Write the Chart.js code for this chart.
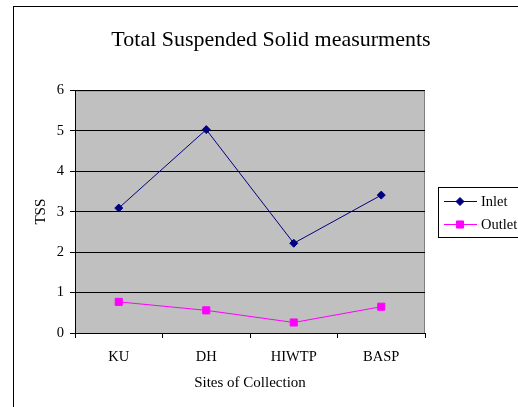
<!DOCTYPE html>
<html>
<head>
<meta charset="utf-8">
<script src="https://cdn.jsdelivr.net/npm/chart.js@4/dist/chart.umd.min.js"></script>
<style>
  html, body { margin: 0; padding: 0; background: #fff; }
  #wrap { width: 518px; height: 407px; }
</style>
</head>
<body>
<div id="wrap"><canvas id="tss" width="518" height="407"></canvas></div>
<script>
const sites = ["KU", "DH", "HIWTP", "BASP"];
const inlet = [3.09, 5.03, 2.22, 3.41];
const outlet = [0.77, 0.56, 0.26, 0.65];
const yTicks = [0, 1, 2, 3, 4, 5, 6];

const serif = "'Liberation Serif', 'Times New Roman', serif";

// grey plot area + outer frame, like the old Excel chart
const plotBackground = {
  id: "plotBackground",
  beforeDraw(chart) {
    const { ctx, chartArea: a } = chart;
    ctx.save();
    ctx.strokeStyle = "#000";
    ctx.lineWidth = 1;
    ctx.strokeRect(13.5, 6.5, 700, 600);
    ctx.fillStyle = "#c0c0c0";
    ctx.fillRect(a.left, a.top, a.right - a.left, a.bottom - a.top);
    ctx.strokeStyle = "#808080";
    ctx.strokeRect(a.left + 0.5, a.top + 0.5, a.right - a.left - 1, a.bottom - a.top);
    ctx.restore();
  }
};

// boxed legend on the right
const boxLegend = {
  id: "boxLegend",
  afterDraw(chart) {
    const { ctx } = chart;
    const x = 438, y = 187;
    ctx.save();
    ctx.fillStyle = "#fff";
    ctx.fillRect(x, y, 100, 50);
    ctx.strokeStyle = "#000";
    ctx.lineWidth = 1;
    ctx.strokeRect(x + 0.5, y + 0.5, 100, 50);
    chart.data.datasets.forEach((ds, i) => {
      const cy = y + 14 + i * 23;
      ctx.strokeStyle = ds.borderColor;
      ctx.lineWidth = 1;
      ctx.beginPath();
      ctx.moveTo(x + 6, cy + 0.5);
      ctx.lineTo(x + 39, cy + 0.5);
      ctx.stroke();
      ctx.fillStyle = ds.pointBackgroundColor;
      Chart.helpers.drawPoint(ctx, {
        pointStyle: ds.pointStyle, radius: ds.pointRadius, rotation: 0, borderWidth: 1
      }, x + 22, cy + 0.5);
      ctx.fillStyle = "#000";
      ctx.font = "14.5px " + serif;
      ctx.textBaseline = "middle";
      ctx.textAlign = "left";
      ctx.fillText(ds.label, x + 43, cy + 1);
    });
    ctx.restore();
  }
};

new Chart(document.getElementById("tss"), {
  type: "line",
  data: {
    labels: sites,
    datasets: [
      {
        label: "Inlet",
        data: inlet,
        borderColor: "#000080",
        backgroundColor: "#000080",
        pointBackgroundColor: "#000080",
        pointBorderColor: "#000080",
        pointStyle: "rectRot",
        pointRadius: 4,
        borderWidth: 1,
        tension: 0
      },
      {
        label: "Outlet",
        data: outlet,
        borderColor: "#ff00ff",
        backgroundColor: "#ff00ff",
        pointBackgroundColor: "#ff00ff",
        pointBorderColor: "#ff00ff",
        pointStyle: "rect",
        pointRadius: 5,
        borderWidth: 1,
        tension: 0
      }
    ]
  },
  options: {
    responsive: false,
    animation: false,
    layout: { padding: { left: 24, right: 0, top: 0, bottom: 0 } },
    plugins: {
      legend: { display: false },
      tooltip: { enabled: false },
      title: {
        display: true,
        text: "Total Suspended Solid measurments",
        color: "#000",
        font: { family: serif, size: 22, weight: "normal" },
        padding: { top: 27, bottom: 37 }
      }
    },
    scales: {
      x: {
        offset: true,
        grid: { offset: true, drawOnChartArea: false, drawTicks: true, tickLength: 5, color: "#000" },
        border: { color: "#000" },
        ticks: { color: "#000", padding: 10, font: { family: serif, size: 14.5 } },
        title: {
          display: true,
          text: "Sites of Collection",
          color: "#000",
          font: { family: serif, size: 15 },
          padding: { top: 0, bottom: 15 }
        },
        afterFit(scale) { scale.height = 74; }
      },
      y: {
        min: 0,
        max: 6,
        afterBuildTicks(scale) { scale.ticks = yTicks.map(v => ({ value: v })); },
        grid: { color: "#000", tickLength: 5 },
        border: { color: "#000" },
        ticks: { color: "#000", padding: 6, font: { family: serif, size: 14.5 } },
        title: {
          display: true,
          text: "TSS",
          color: "#000",
          font: { family: serif, size: 15 },
          padding: { top: 8, bottom: 0 }
        },
        afterFit(scale) { scale.width = 51; }
      },
      gutter: {
        position: "right",
        display: true,
        grid: { display: false },
        border: { display: false },
        ticks: { display: false },
        afterFit(scale) { scale.width = 93; }
      }
    }
  },
  plugins: [plotBackground, boxLegend]
});
</script>
</body>
</html>
